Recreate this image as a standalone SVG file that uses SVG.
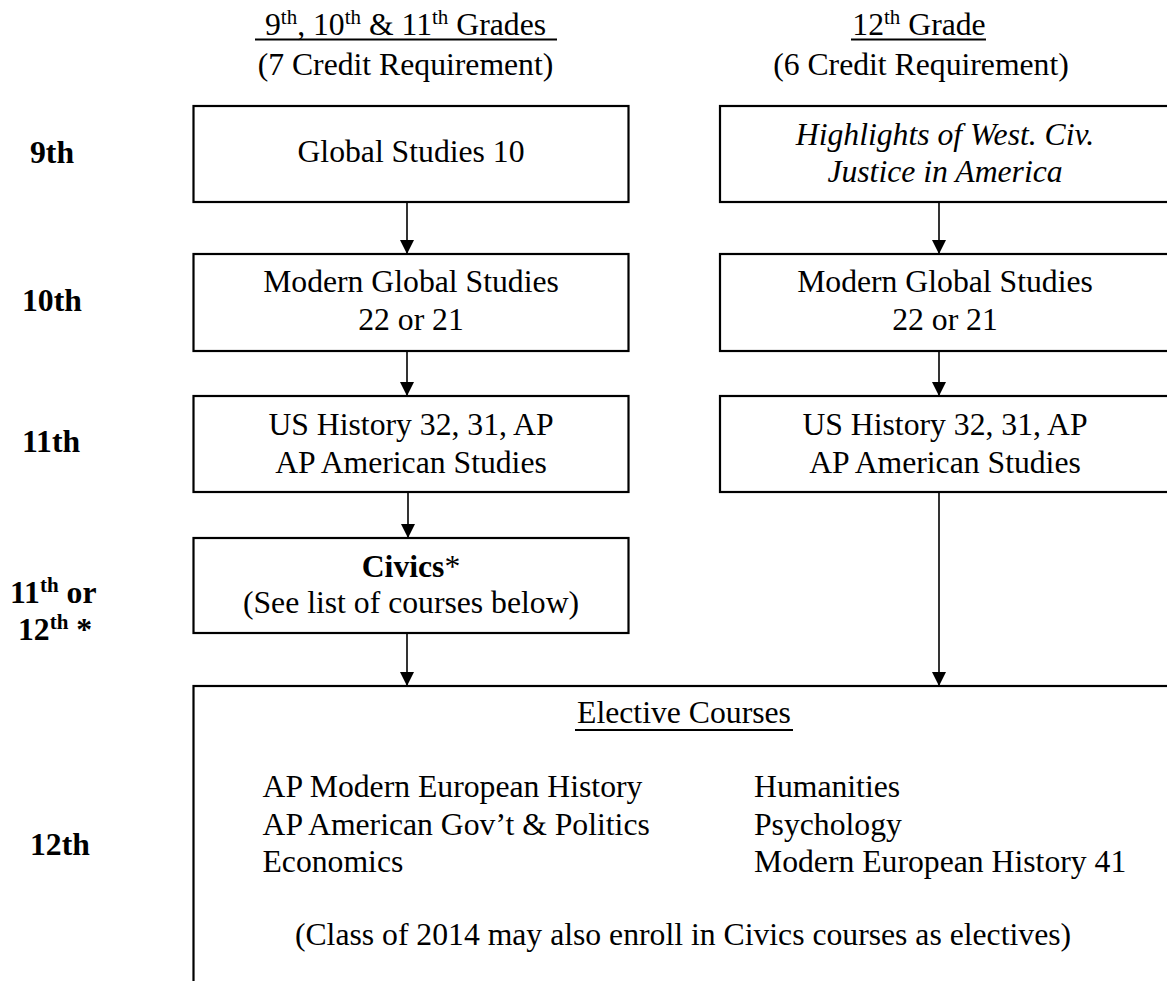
<svg xmlns="http://www.w3.org/2000/svg" width="1167" height="981" viewBox="0 0 1167 981">
<style>
.t{font-family:"Liberation Serif","Times New Roman",serif;font-size:31.7px;fill:#000}
.m{text-anchor:middle}
.b{font-weight:bold}
.i{font-style:italic}
.box{fill:#fff;stroke:#000;stroke-width:2.2}
.ul{stroke:#000;stroke-width:2}
.conn line{stroke:#000;stroke-width:1.6}
</style>
<defs>
<marker id="arr" markerUnits="userSpaceOnUse" markerWidth="16" markerHeight="16" refX="14" refY="7.5" orient="auto">
<path d="M0,0.5 L14,7.5 L0,14.5 z" fill="#000"/>
</marker>
</defs>
<rect width="1167" height="981" fill="#fff"/>

<g id="header-left">
<text class="t m" x="405.5" y="35">9<tspan font-size="21" dy="-11">th</tspan><tspan dy="11">, 10</tspan><tspan font-size="21" dy="-11">th</tspan><tspan dy="11"> &amp; 11</tspan><tspan font-size="21" dy="-11">th</tspan><tspan dy="11"> Grades</tspan></text>
<line class="ul" x1="255" y1="39.5" x2="557" y2="39.5"/>
<text class="t m" x="405.5" y="75">(7 Credit Requirement)</text>
</g>
<g id="header-right">
<text class="t m" x="919" y="35">12<tspan font-size="21" dy="-11">th</tspan><tspan dy="11"> Grade</tspan></text>
<line class="ul" x1="851" y1="39.5" x2="986" y2="39.5"/>
<text class="t m" x="921" y="75">(6 Credit Requirement)</text>
</g>

<g id="labels">
<text class="t b" x="30" y="163">9th</text>
<text class="t b" x="22" y="311">10th</text>
<text class="t b" x="22" y="452">11th</text>
<text class="t b" x="10" y="603">11<tspan font-size="21" dy="-11">th</tspan><tspan dy="11"> or</tspan></text>
<text class="t b" x="18" y="640">12<tspan font-size="21" dy="-11">th</tspan><tspan dy="11"> *</tspan></text>
<text class="t b" x="30" y="855">12th</text>
</g>

<g id="global10">
<rect class="box" x="193.5" y="106" width="435" height="96"/>
<text class="t m" x="411" y="162">Global Studies 10</text>
</g>
<g id="modern-left">
<rect class="box" x="193.5" y="254" width="435" height="97"/>
<text class="t m" x="411" y="292">Modern Global Studies</text>
<text class="t m" x="411" y="330">22 or 21</text>
</g>
<g id="us-left">
<rect class="box" x="193.5" y="396" width="435" height="96"/>
<text class="t m" x="411" y="435">US History 32, 31, AP</text>
<text class="t m" x="411" y="473">AP American Studies</text>
</g>
<g id="civics">
<rect class="box" x="193.5" y="538" width="435" height="95"/>
<text class="t m" x="411" y="577"><tspan class="b">Civics</tspan>*</text>
<text class="t m" x="411" y="613">(See list of courses below)</text>
</g>

<g id="highlights">
<rect class="box" x="720" y="106" width="470" height="96"/>
<text class="t m i" x="945" y="145">Highlights of West. Civ.</text>
<text class="t m i" x="945" y="182">Justice in America</text>
</g>
<g id="modern-right">
<rect class="box" x="720" y="254" width="470" height="97"/>
<text class="t m" x="945" y="292">Modern Global Studies</text>
<text class="t m" x="945" y="330">22 or 21</text>
</g>
<g id="us-right">
<rect class="box" x="720" y="396" width="470" height="96"/>
<text class="t m" x="945" y="435">US History 32, 31, AP</text>
<text class="t m" x="945" y="473">AP American Studies</text>
</g>

<g id="electives">
<rect class="box" x="193.5" y="686" width="1000" height="320"/>
<text class="t m" x="684" y="723">Elective Courses</text>
<line class="ul" x1="575" y1="730" x2="793" y2="730"/>
<text class="t" x="262.5" y="797">AP Modern European History</text>
<text class="t" x="262.5" y="835">AP American Gov’t &amp; Politics</text>
<text class="t" x="262.5" y="872">Economics</text>
<text class="t" x="754" y="797">Humanities</text>
<text class="t" x="754" y="835">Psychology</text>
<text class="t" x="754" y="872">Modern European History 41</text>
<text class="t m" x="683" y="945">(Class of 2014 may also enroll in Civics courses as electives)</text>
</g>

<g id="connectors" class="conn">
<line x1="407" y1="202" x2="407" y2="254" marker-end="url(#arr)"/>
<line x1="407" y1="351" x2="407" y2="396" marker-end="url(#arr)"/>
<line x1="408" y1="492" x2="408" y2="538" marker-end="url(#arr)"/>
<line x1="407" y1="633" x2="407" y2="686" marker-end="url(#arr)"/>
<line x1="939" y1="202" x2="939" y2="254" marker-end="url(#arr)"/>
<line x1="939" y1="351" x2="939" y2="396" marker-end="url(#arr)"/>
<line x1="939" y1="492" x2="939" y2="686" marker-end="url(#arr)"/>
</g>
</svg>
